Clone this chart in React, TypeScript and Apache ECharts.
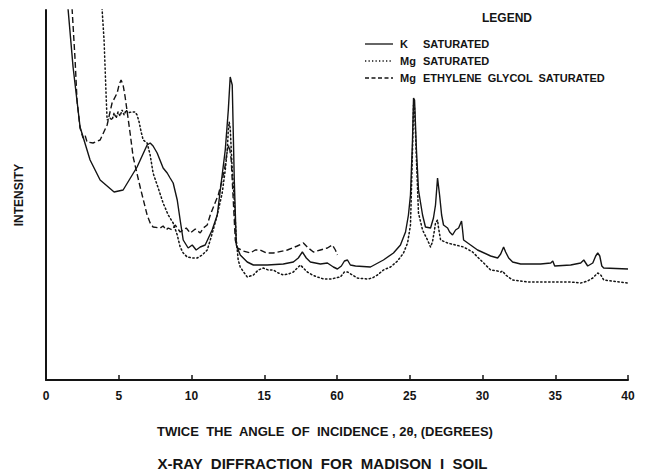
import React, { useEffect, useRef } from "react";
import * as echarts from "echarts";

// 2θ (degrees) vs relative intensity (arbitrary units)
const kSaturated: [number, number][] = [
  [1.51, 372], [1.86, 313], [2.34, 253], [3.03, 220], [3.72, 200], [4.68, 188], [5.3, 190],
  [6.26, 213], [6.95, 235], [7.16, 237], [7.36, 234], [7.64, 227], [8.05, 212], [8.33, 207],
  [8.53, 202], [8.74, 197], [9.02, 180], [9.22, 160], [9.43, 140], [9.77, 132], [10.05, 135],
  [10.32, 130], [10.6, 133], [10.94, 135], [11.42, 150], [11.77, 165], [11.98, 190], [12.32, 230],
  [12.53, 270], [12.66, 303], [12.8, 295], [12.94, 200], [13.08, 135], [13.35, 125], [13.83, 118],
  [14.25, 115], [15.21, 115], [16.31, 116], [17.0, 118], [17.34, 122], [17.62, 128], [17.89, 122],
  [18.17, 118], [18.86, 116], [19.34, 117], [19.75, 113], [20.03, 111], [20.3, 114], [20.51, 119],
  [20.72, 120], [20.92, 115], [21.27, 114], [22.3, 113], [23.19, 120], [23.88, 127], [24.36, 135],
  [24.71, 148], [24.91, 165], [25.05, 185], [25.19, 240], [25.26, 282], [25.33, 280], [25.46, 230],
  [25.6, 190], [25.88, 165], [26.08, 153], [26.43, 152], [26.63, 162], [26.77, 175], [26.91, 202],
  [27.05, 185], [27.19, 165], [27.32, 155], [27.6, 152], [27.74, 148], [27.94, 145], [28.15, 150],
  [28.36, 152], [28.56, 159], [28.63, 150], [28.7, 140], [29.18, 135], [29.66, 130], [30.56, 124],
  [31.04, 122], [31.25, 126], [31.45, 133], [31.59, 128], [31.8, 122], [32.07, 118], [32.62, 116],
  [33.1, 116], [33.99, 116], [34.69, 117], [34.83, 119], [34.96, 114], [36.06, 115], [36.75, 117],
  [36.96, 120], [37.23, 114], [37.58, 117], [37.78, 124], [37.92, 127], [38.06, 124], [38.2, 114],
  [38.33, 112], [40.0, 111],
];

const mgSaturated: [number, number][] = [
  [3.85, 372], [3.99, 340], [4.06, 313], [4.13, 285], [4.2, 260], [4.4, 262], [4.54, 260],
  [4.68, 267], [4.82, 262], [4.95, 268], [5.09, 264], [5.23, 270], [5.37, 265], [5.51, 270],
  [5.64, 267], [5.85, 268], [6.13, 268], [6.26, 265], [6.4, 258], [6.54, 248], [6.68, 240],
  [6.95, 237], [7.16, 225], [7.36, 207], [7.71, 192], [8.05, 177], [8.4, 165], [8.74, 157],
  [9.02, 145], [9.22, 133], [9.43, 127], [9.7, 123], [10.05, 122], [10.39, 122], [10.74, 125],
  [11.08, 130], [11.29, 140], [11.49, 150], [11.77, 165], [12.11, 187], [12.32, 210], [12.46, 230],
  [12.53, 250], [12.59, 258], [12.66, 252], [12.8, 210], [12.94, 180], [13.08, 140], [13.21, 120],
  [13.35, 113], [13.63, 107], [13.83, 103], [14.25, 105], [14.59, 110], [14.93, 112], [15.28, 110],
  [15.62, 110], [15.97, 107], [16.31, 105], [16.66, 106], [17.0, 108], [17.27, 112], [17.48, 115],
  [17.69, 112], [17.96, 108], [18.31, 105], [18.65, 103], [19.07, 101], [19.55, 101], [19.89, 102],
  [20.23, 103], [20.51, 108], [20.72, 108], [21.06, 105], [21.4, 102], [22.09, 101], [22.43, 102],
  [22.78, 105], [23.19, 110], [23.68, 113], [24.16, 119], [24.57, 127], [24.85, 137], [25.05, 155],
  [25.19, 230], [25.26, 275], [25.33, 272], [25.46, 220], [25.6, 167], [25.88, 150], [26.22, 140],
  [26.43, 133], [26.56, 138], [26.7, 150], [26.77, 157], [26.91, 160], [26.98, 152], [27.12, 140],
  [27.6, 137], [28.15, 135], [28.7, 133], [29.32, 128], [29.87, 120], [30.56, 110], [31.04, 109],
  [31.25, 108], [31.38, 109], [31.59, 105], [32.07, 100], [33.1, 98], [34.89, 98], [36.06, 98],
  [36.75, 97], [37.23, 99], [37.58, 102], [37.92, 107], [38.13, 105], [38.33, 100], [40.0, 97],
];

const mgGlycol: [number, number][] = [
  [1.79, 372], [2.0, 320], [2.13, 280], [2.34, 252], [2.55, 242], [2.68, 245], [2.82, 238],
  [3.23, 237], [3.72, 240], [4.2, 255], [4.54, 277], [4.89, 287], [5.02, 295], [5.16, 300],
  [5.3, 295], [5.44, 283], [5.78, 247], [5.99, 223], [6.47, 193], [6.95, 165], [7.16, 157],
  [7.36, 153], [7.85, 152], [8.05, 154], [8.26, 150], [8.4, 152], [8.67, 150], [8.88, 155],
  [9.22, 148], [9.64, 152], [9.91, 147], [10.26, 151], [10.6, 147], [10.81, 152], [11.08, 155],
  [11.29, 165], [11.56, 175], [11.84, 185], [12.11, 200], [12.32, 215], [12.46, 230], [12.59, 235],
  [12.73, 220], [12.87, 180], [13.01, 140], [13.15, 132], [13.56, 129], [14.04, 127], [14.38, 130],
  [14.73, 130], [15.14, 127], [15.62, 127], [16.59, 130], [17.27, 134], [17.69, 137], [18.03, 132],
  [18.38, 128], [18.86, 130], [19.34, 132], [19.68, 135], [19.89, 130], [20.03, 125],
];

const xTicks = [0, 5, 10, 15, 20, 25, 30, 35, 40];
const xTickLabels = ["0", "5", "10", "15", "60", "25", "30", "35", "40"];

const seriesNames = ["K  SATURATED", "Mg  SATURATED", "Mg  ETHYLENE  GLYCOL  SATURATED"];

const INK = "#141414";
const FONT = "'Liberation Sans', Arial, Helvetica, sans-serif";

export default function App() {
  const ref = useRef<HTMLDivElement>(null);

  useEffect(() => {
    if (!ref.current) return;
    const chart = echarts.init(ref.current, undefined, { renderer: "svg" });

    const legendRows = [
      { y: 44, dash: "solid" as any, prefix: "K", rest: "SATURATED" },
      { y: 61, dash: [1.3, 2.2] as any, prefix: "Mg", rest: "SATURATED" },
      { y: 78, dash: [4, 2.5] as any, prefix: "Mg", rest: "ETHYLENE  GLYCOL  SATURATED" },
    ];

    const graphic: any[] = [
      {
        type: "text",
        left: 482,
        top: 12,
        style: { text: "LEGEND", fill: INK, font: `bold 12px ${FONT}` },
      },
    ];
    legendRows.forEach((r) => {
      graphic.push({
        type: "line",
        shape: { x1: 365, y1: r.y, x2: 393, y2: r.y },
        style: { stroke: INK, lineWidth: 1.3, lineDash: r.dash === "solid" ? null : r.dash },
      });
      graphic.push({
        type: "text",
        x: 400,
        y: r.y,
        style: { text: r.prefix, fill: INK, font: `bold 11px ${FONT}`, verticalAlign: "middle" },
      });
      graphic.push({
        type: "text",
        x: 423,
        y: r.y,
        style: { text: r.rest, fill: INK, font: `bold 11px ${FONT}`, verticalAlign: "middle" },
      });
    });

    chart.setOption({
      animation: false,
      backgroundColor: "#ffffff",
      title: {
        text: "X-RAY  DIFFRACTION  FOR  MADISON  I  SOIL",
        left: "center",
        top: 455,
        padding: 0,
        textStyle: { fontFamily: FONT, fontSize: 15, fontWeight: "bold", color: INK, lineHeight: 17 },
      },
      grid: { left: 46, right: 17, top: 10, bottom: 94, containLabel: false },
      xAxis: {
        type: "value",
        min: 0,
        max: 40,
        interval: 5,
        name: "TWICE  THE  ANGLE  OF  INCIDENCE , 2θ, (DEGREES)",
        nameLocation: "middle",
        nameGap: 45,
        nameTextStyle: {
          fontFamily: FONT,
          fontSize: 13,
          fontWeight: "bold",
          color: INK,
          padding: [0, 24, 0, 0],
        },
        axisLine: { show: true, lineStyle: { color: INK, width: 2 } },
        axisTick: { show: true, inside: true, length: 5, lineStyle: { color: INK, width: 1.5 } },
        axisLabel: {
          margin: 10,
          fontFamily: FONT,
          fontSize: 12,
          fontWeight: "bold",
          color: INK,
          formatter: (v: number) => {
            const i = xTicks.indexOf(v);
            return i >= 0 ? xTickLabels[i] : "";
          },
        },
        splitLine: { show: false },
      },
      yAxis: {
        type: "value",
        min: 0,
        max: 370,
        name: "INTENSITY",
        nameLocation: "middle",
        nameRotate: 90,
        nameGap: 21,
        nameTextStyle: { fontFamily: FONT, fontSize: 12, fontWeight: "bold", color: INK },
        axisLine: { show: true, lineStyle: { color: INK, width: 2 } },
        axisTick: { show: false },
        axisLabel: { show: false },
        splitLine: { show: false },
      },
      graphic,
      series: [
        {
          name: seriesNames[0],
          type: "line",
          data: kSaturated,
          symbol: "none",
          smooth: false,
          lineStyle: { color: INK, width: 1.4, type: "solid" },
        },
        {
          name: seriesNames[1],
          type: "line",
          data: mgSaturated,
          symbol: "none",
          smooth: false,
          lineStyle: { color: INK, width: 1.5, type: [1.4, 2.6], cap: "round" },
        },
        {
          name: seriesNames[2],
          type: "line",
          data: mgGlycol,
          symbol: "none",
          smooth: false,
          lineStyle: { color: INK, width: 1.4, type: [6, 3] },
        },
      ],
    });

    return () => chart.dispose();
  }, []);

  return (
    <div
      ref={ref}
      style={{ position: "fixed", left: 0, top: 0, width: 645, height: 474, background: "#fff" }}
    />
  );
}
